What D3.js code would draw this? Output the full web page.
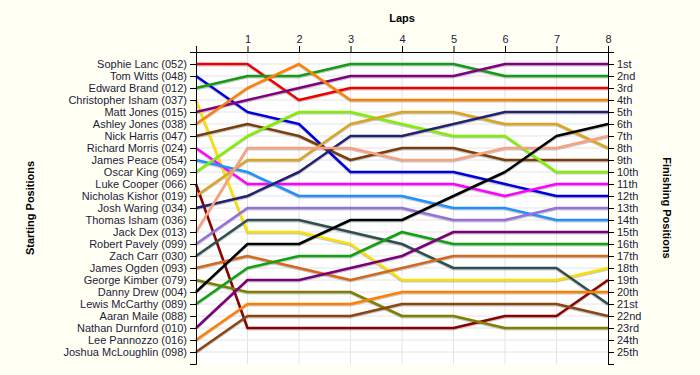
<!DOCTYPE html>
<html>
<head>
<meta charset="utf-8">
<script src="https://cdn.jsdelivr.net/npm/d3@7"></script>
<style>
  body { margin: 0; background: #fffff4; }
  svg { display: block; font-family: "Liberation Sans", Arial, sans-serif; }
  .axis text { font-size: 11px; fill: #1c1c3c; }
  .axis path, .axis line { stroke: #000; }
  .title { font-size: 11px; font-weight: bold; fill: #000; }
</style>
</head>
<body>
<div id="chart"></div>
<script>
// driver names in starting order
var drivers = [
  "Sophie Lanc (052)", "Tom Witts (048)", "Edward Brand (012)", "Christopher Isham (037)",
  "Matt Jones (015)", "Ashley Jones (038)", "Nick Harris (047)", "Richard Morris (024)",
  "James Peace (054)", "Oscar King (069)", "Luke Cooper (066)", "Nicholas Kishor (019)",
  "Josh Waring (034)", "Thomas Isham (036)", "Jack Dex (013)", "Robert Pavely (099)",
  "Zach Carr (030)", "James Ogden (093)", "George Kimber (079)", "Danny Drew (004)",
  "Lewis McCarthy (089)", "Aaran Maile (088)", "Nathan Durnford (010)", "Lee Pannozzo (016)",
  "Joshua McLoughlin (098)"
];

var finishLabels = ["1st","2nd","3rd","4th","5th","6th","7th","8th","9th","10th","11th","12th",
  "13th","14th","15th","16th","17th","18th","19th","20th","21st","22nd","23rd","24th","25th"];

var laps = [0, 1, 2, 3, 4, 5, 6, 7, 8];

// position of each driver at lap 0..8 (null = no laps completed)
var positions = [
  [1, 1, 4, 3, 3, 3, 3, 3, 3],
  [2, 5, 6, 10, 10, 10, 11, 12, 12],
  [3, 2, 2, 1, 1, 1, 2, 2, 2],
  [4, 15, 15, 16, 19, 19, 19, 19, 18],
  [5, 4, 3, 2, 2, 2, 1, 1, 1],
  [6, 3, 1, 4, 4, 4, 4, 4, 4],
  [7, 6, 7, 9, 8, 8, 9, 9, 9],
  [8, 11, 11, 11, 11, 11, 12, 11, 11],
  [9, 10, 12, 12, 12, 13, 13, 14, 14],
  [10, 7, 5, 5, 6, 7, 7, 10, 10],
  [11, 23, 23, 23, 23, 23, 22, 22, 19],
  [12, 9, 9, 6, 5, 5, 6, 6, 8],
  [13, 12, 10, 7, 7, 6, 5, 5, 5],
  null,
  [15, 8, 8, 8, 9, 9, 8, 8, 7],
  [16, 13, 13, 13, 13, 14, 14, 13, 13],
  [17, 14, 14, 15, 16, 18, 18, 18, 21],
  [18, 17, 18, 19, 18, 17, 17, 17, 17],
  [19, 20, 20, 20, 22, 22, 23, 23, 23],
  [20, 16, 16, 14, 14, 12, 10, 7, 6],
  [21, 18, 17, 17, 15, 16, 16, 16, 16],
  null,
  [23, 19, 19, 18, 17, 15, 15, 15, 15],
  [24, 21, 21, 21, 20, 20, 20, 20, 20],
  [25, 22, 22, 22, 21, 21, 21, 21, 22]
];

var colors = [
  "#ee0000", "#0000dd", "#159a15", "#f8e000", "#800080", "#ff8000", "#7a3e0a", "#ff00ff",
  "#2090ff", "#80f000", "#8b0000", "#daa520", "#22226e", "#999999", "#f8a080", "#9370db",
  "#2f4f4f", "#d2691e", "#808000", "#000000", "#10a010", "#999999", "#7a007a", "#ff8000",
  "#8b4513"
];

var width = 700, height = 375;
var plotLeft = 196, plotRight = 608, plotTop = 52, plotBottom = 364;

var svg = d3.select("#chart")
  .append("svg")
  .attr("width", width)
  .attr("height", height);

var x = d3.scaleLinear().domain([0, 8]).range([plotLeft, plotRight]);
var y = d3.scaleLinear().domain([0, 26]).range([plotTop, plotBottom]);

// plot background
svg.append("rect")
  .attr("x", plotLeft).attr("y", plotTop)
  .attr("width", plotRight - plotLeft).attr("height", plotBottom - plotTop)
  .attr("fill", "#ffffff");

// grid
svg.append("g")
  .selectAll("line")
  .data(d3.range(1, 26))
  .enter().append("line")
  .attr("x1", plotLeft).attr("x2", plotRight)
  .attr("y1", d => y(d)).attr("y2", d => y(d))
  .attr("stroke", "#e4e4e4");

svg.append("g")
  .selectAll("line")
  .data(laps.slice(1, 8))
  .enter().append("line")
  .attr("x1", d => x(d)).attr("x2", d => x(d))
  .attr("y1", plotTop).attr("y2", plotBottom)
  .attr("stroke", "#e4e4e4");

// lines
var line = d3.line()
  .defined(d => d != null)
  .x((d, i) => x(laps[i]))
  .y(d => y(d));

var series = positions.map((p, i) => ({ pos: p, color: colors[i] }))
  .filter(d => d.pos != null);

// soft shadow under each line
svg.append("g")
  .selectAll("path")
  .data(series)
  .enter().append("path")
  .attr("transform", "translate(0,1.2)")
  .attr("fill", "none")
  .attr("stroke", "#888")
  .attr("stroke-opacity", 0.45)
  .attr("stroke-width", 2.5)
  .attr("d", d => line(d.pos));

svg.append("g")
  .selectAll("path")
  .data(series)
  .enter().append("path")
  .attr("fill", "none")
  .attr("stroke", d => d.color)
  .attr("stroke-width", 2.5)
  .attr("stroke-linejoin", "round")
  .attr("d", d => line(d.pos));

// axes
svg.append("g")
  .attr("class", "axis")
  .attr("transform", "translate(" + plotLeft + ",0)")
  .call(d3.axisLeft(y)
    .tickValues(d3.range(0, 27))
    .tickSizeOuter(0)
    .tickSize(6)
    .tickFormat(d => drivers[d - 1] || ""));

svg.append("g")
  .attr("class", "axis")
  .attr("transform", "translate(" + plotRight + ",0)")
  .call(d3.axisRight(y)
    .tickValues(d3.range(0, 27))
    .tickSizeOuter(0)
    .tickSize(6)
    .tickFormat(d => finishLabels[d - 1] || ""));

svg.append("g")
  .attr("class", "axis")
  .attr("transform", "translate(0," + plotTop + ")")
  .call(d3.axisTop(x)
    .tickValues(laps)
    .tickSizeOuter(0)
    .tickSize(6)
    .tickFormat(d => d ? d : ""));

svg.selectAll(".axis text").attr("font-size", 11);
svg.selectAll(".axis .tick text").filter(function () { return this.textContent === ""; }).remove();

// titles
svg.append("text")
  .attr("class", "title")
  .attr("x", (plotLeft + plotRight) / 2)
  .attr("y", 22)
  .attr("text-anchor", "middle")
  .text("Laps");

svg.append("text")
  .attr("class", "title")
  .attr("transform", "translate(34," + (plotTop + plotBottom) / 2 + ") rotate(-90)")
  .attr("text-anchor", "middle")
  .text("Starting Positions");

svg.append("text")
  .attr("class", "title")
  .attr("transform", "translate(663," + (plotTop + plotBottom) / 2 + ") rotate(90)")
  .attr("text-anchor", "middle")
  .text("Finishing Positions");
</script>
</body>
</html>
